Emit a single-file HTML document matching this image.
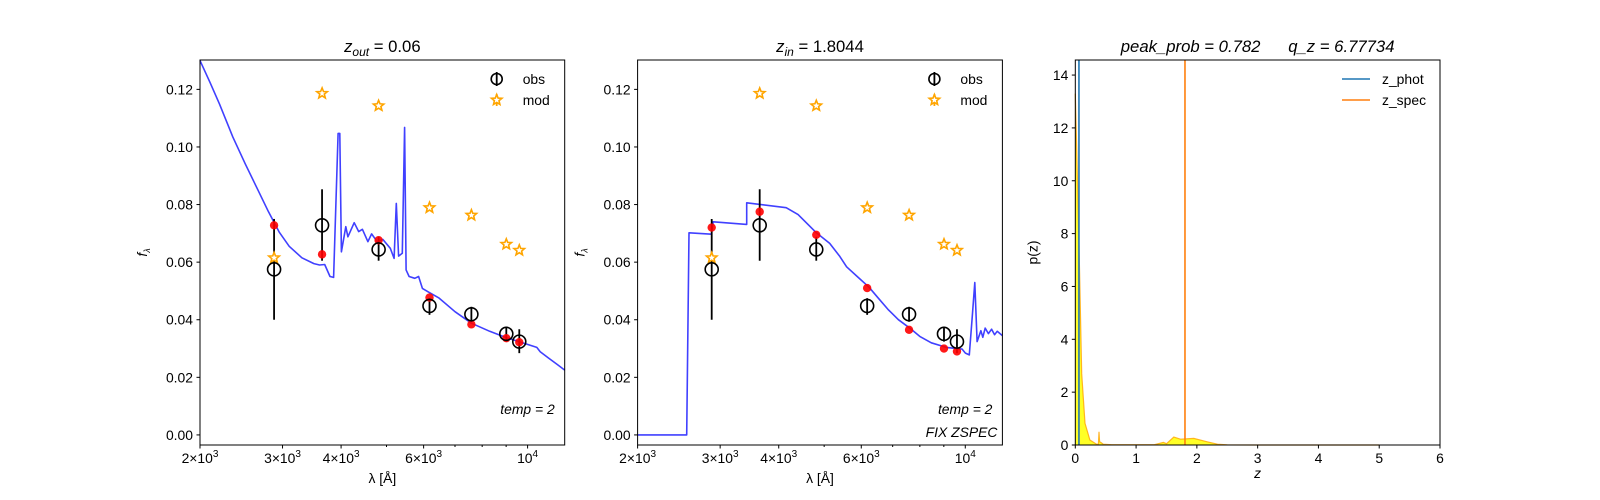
<!DOCTYPE html>
<html><head><meta charset="utf-8"><style>
body{margin:0;background:#fff;}
svg{display:block;font-family:"Liberation Sans","DejaVu Sans",sans-serif;}
</style></head><body>
<svg id="fig" width="1600" height="500" viewBox="0 0 1600 500"></svg>
<script>
// ---- data ----
const obsLam = [2878, 3643, 4810, 6176, 7587, 9007, 9600];
const obsFlux = [0.0575, 0.0728, 0.0644, 0.0448, 0.0419, 0.0351, 0.0324];
const obsErrLo = [0.0400, 0.0605, 0.0605, 0.0417, 0.0393, 0.0324, 0.0284];
const obsErrHi = [0.0750, 0.0853, 0.0688, 0.0475, 0.0445, 0.0376, 0.0367];
const modFlux = [0.0615, 0.1186, 0.1143, 0.0789, 0.0763, 0.0662, 0.0641];
const fitOut = [0.0728, 0.0627, 0.0676, 0.0477, 0.0384, 0.0336, 0.0322];
const fitIn = [0.0720, 0.0775, 0.0695, 0.0510, 0.0365, 0.0300, 0.0290];
const sedOutLam = [2000,2100,2200,2350,2500,2650,2800,2950,3100,3300,3500,3600,3690,3788,3856,3941,3975,4006,4093,4137,4267,4362,4442,4564,4647,4777,4910,5094,5190,5247,5306,5404,5464,5506,5586,5745,5854,5964,6134,6474,7000,7587,8300,9007,10465,10640,11100,11600,12000];
const sedOutFlux = [0.130,0.1225,0.115,0.1035,0.094,0.0855,0.0775,0.0705,0.0655,0.0615,0.0595,0.059,0.0592,0.055,0.0547,0.1047,0.1047,0.0636,0.0723,0.0688,0.0737,0.0706,0.0714,0.0671,0.0698,0.0671,0.0679,0.0648,0.0613,0.0804,0.0621,0.0631,0.1068,0.0573,0.0550,0.0544,0.0550,0.0509,0.0497,0.0475,0.0428,0.0388,0.0360,0.0338,0.0304,0.0289,0.0266,0.0243,0.0225];
const sedInLam = [2000,2545,2574,2875,2899,3417,3418,4150,4400,4814,5137,5400,5583,5900,6231,6500,6842,7200,7669,8000,8462,9109,9843,10005,10200,10360,10480,10600,10800,10900,11030,11200,11380,11550,11700,12000];
const sedInFlux = [0,0,0.0702,0.0697,0.0740,0.0731,0.0806,0.0789,0.0765,0.0702,0.0665,0.062,0.0584,0.0548,0.0513,0.0478,0.0436,0.0400,0.0367,0.0342,0.0320,0.0304,0.0298,0.0284,0.0278,0.0422,0.0529,0.0324,0.0362,0.0339,0.0371,0.0352,0.0367,0.0348,0.0360,0.0345];
const pzZ = [0,0.033,0.07,0.105,0.16,0.24,0.35,0.38,0.39,0.40,0.42,0.46,0.6,1.0,1.3,1.45,1.5,1.62,1.73,1.95,2.17,2.34,2.5,3.0,5.0];
const pzP = [13.3,10.3,6.5,2.7,0.82,0.19,0.03,0.03,0.5,0.12,0.1,0.03,0.01,0.01,0.01,0.1,0.05,0.3,0.22,0.25,0.12,0.03,0.005,0,0];
const zPhot = 0.06;
const zSpec = 1.8044;
const yTicks = [0,0.02,0.04,0.06,0.08,0.10,0.12];
const xMajor = [2000,3000,4000,6000,10000];
const xMajorLbl = [["2","3"],["3","3"],["4","3"],["6","3"],[null,"4"]];
const xMinor = [5000,7000,8000,9000];
const pzXTicks = [0,1,2,3,4,5,6];
const pzYTicks = [0,2,4,6,8,10,12,14];

const NS="http://www.w3.org/2000/svg";
const fig=document.getElementById('fig');
function el(tag,attrs,parent,text){const e=document.createElementNS(NS,tag);for(const k in attrs)e.setAttribute(k,attrs[k]);if(text!=null)e.textContent=text;(parent||fig).appendChild(e);return e;}

const T=60,B=445;
function sedPanel(x0,x1,sedL,sedF,fit,title,sub,name,fix){
  const g=el('g',{});
  
  
  const lx0=Math.log10(2000),lx1=Math.log10(12000);
  const X=l=>x0+(Math.log10(l)-lx0)/(lx1-lx0)*(x1-x0);
  const y0=-0.0035,y1=0.1302;
  const Y=v=>B-(v-y0)/(y1-y0)*(B-T);
  let d='';sedL.forEach((l,i)=>{d+=(i?'L':'M')+X(l).toFixed(1)+' '+Y(sedF[i]).toFixed(1);});
  const c=el('path',{d:d,fill:'none',stroke:'#0000ff','stroke-opacity':0.75,'stroke-width':1.6,'stroke-linejoin':'round'},g);
  
  
  obsLam.forEach((l,i)=>{
    const e=el('line',{x1:X(l),x2:X(l),y1:Y(obsErrLo[i]),y2:Y(obsErrHi[i]),stroke:'#000','stroke-width':1.8},g);
    
    
  });
  obsLam.forEach((l,i)=>{
    const cx=X(l),cy=Y(modFlux[i]);let p='';
    for(let k=0;k<10;k++){const r=k%2?2.4:5.5,a=-Math.PI/2+k*Math.PI/5;p+=(cx+r*Math.cos(a)).toFixed(1)+','+(cy+r*Math.sin(a)).toFixed(1)+' ';}
    const s=el('polygon',{points:p,fill:'#fff',stroke:'#ffa500','stroke-width':1.6},g);
    
    
  });
  obsLam.forEach((l,i)=>{
    const r=el('circle',{cx:X(l),cy:Y(fit[i]),r:4.2,fill:'#ff0000','fill-opacity':0.9},g);
    
    
  });
  obsLam.forEach((l,i)=>{
    const o=el('circle',{cx:X(l),cy:Y(obsFlux[i]),r:6.5,fill:'none',stroke:'#000','stroke-width':1.6},g);
    
    
  });
  el('rect',{x:x0,y:T,width:x1-x0,height:B-T,fill:'none',stroke:'#000','stroke-width':1},g);
  yTicks.forEach(v=>{
    el('line',{x1:x0-3.5,x2:x0,y1:Y(v),y2:Y(v),stroke:'#000'},g);
    const t=el('text',{x:x0-7,y:Y(v)+5,'text-anchor':'end','font-size':13.9},g,v.toFixed(2));
    
    
  });
  xMajor.forEach((v,i)=>{
    el('line',{x1:X(v),x2:X(v),y1:B,y2:B+3.5,stroke:'#000'},g);
    const t=el('text',{x:X(v),y:B+18,'text-anchor':'middle','font-size':13.9},g);
    
    
    const m=xMajorLbl[i];
    if(m[0]){t.appendChild(document.createTextNode(m[0]+'\u00d710'));}else t.appendChild(document.createTextNode('10'));
    const s=document.createElementNS(NS,'tspan');s.setAttribute('dy','-6');s.setAttribute('font-size','10');s.textContent=m[1];t.appendChild(s);
  });
  xMinor.forEach(v=>el('line',{x1:X(v),x2:X(v),y1:B,y2:B+2,stroke:'#000'},g));
  const tt=el('text',{x:(x0+x1)/2,y:52,'text-anchor':'middle','font-size':16.7},g);
  
  
  const a=document.createElementNS(NS,'tspan');a.setAttribute('font-style','italic');a.textContent='z';tt.appendChild(a);
  const b=document.createElementNS(NS,'tspan');b.setAttribute('font-style','italic');b.setAttribute('font-size','12');b.setAttribute('dy','4');b.textContent=sub;tt.appendChild(b);
  const c2=document.createElementNS(NS,'tspan');c2.setAttribute('dy','-4');c2.textContent=' = '+title;tt.appendChild(c2);
  const xl=el('text',{x:(x0+x1)/2,y:483,'text-anchor':'middle','font-size':13.9},g,'\u03bb [\u00c5]');
  
  
  const yl=el('text',{x:0,y:0,'text-anchor':'middle','font-size':13.9,'font-style':'italic',transform:`translate(${x0-53},${(T+B)/2}) rotate(-90)`},g,'f');
  
  
  const ys=document.createElementNS(NS,'tspan');ys.setAttribute('font-size','9');ys.setAttribute('dy','3');ys.textContent='\u03bb';yl.appendChild(ys);
  const lg=el('g',{},g);
  
  
  const mx=x1-68;
  el('circle',{cx:mx,cy:79,r:5.5,fill:'none',stroke:'#000','stroke-width':1.6},lg);
  el('line',{x1:mx,x2:mx,y1:72,y2:86,stroke:'#000','stroke-width':1.8},lg);
  el('text',{x:mx+26,y:84,'font-size':13.9},lg,'obs');
  let p='';for(let k=0;k<10;k++){const r=k%2?2.4:5.5,a2=-Math.PI/2+k*Math.PI/5;p+=(mx+r*Math.cos(a2)).toFixed(1)+','+(100+r*Math.sin(a2)).toFixed(1)+' ';}
  el('line',{x1:mx,x2:mx,y1:94,y2:106,stroke:'#ffa500','stroke-width':1.8},lg);
  el('polygon',{points:p,fill:'#fff',stroke:'#ffa500','stroke-width':1.6},lg);
  el('text',{x:mx+26,y:105,'font-size':13.9},lg,'mod');
  const at=el('text',{x:x1-10,y:414,'text-anchor':'end','font-size':13.9,'font-style':'italic'},g,'temp = 2');
  
  
  if(fix){const f=el('text',{x:x1-5,y:437,'text-anchor':'end','font-size':13.9,'font-style':'italic'},g,'FIX ZSPEC');
    
    }
}
sedPanel(200,564.7,sedOutLam,sedOutFlux,fitOut,'0.06','out','sed-panel-out',false);
sedPanel(637.6,1002.4,sedInLam,sedInFlux,fitIn,'1.8044','in','sed-panel-in',true);

(function(){
  const x0=1075.3,x1=1440;
  const g=el('g',{});
  
  
  const X=z=>x0+z/6*(x1-x0);
  const Y=p=>B-p/14.57*(B-T);
  let d='M'+X(pzZ[0])+' '+Y(0);
  pzZ.forEach((z,i)=>{d+='L'+X(z).toFixed(1)+' '+Y(pzP[i]).toFixed(1);});
  d+='L'+X(pzZ[pzZ.length-1])+' '+Y(0)+'Z';
  const f=el('path',{d:d,fill:'#ffff00','fill-opacity':0.85,stroke:'none'},g);
  
  
  let d2='';pzZ.forEach((z,i)=>{d2+=(i?'L':'M')+X(z).toFixed(1)+' '+Y(pzP[i]).toFixed(1);});
  const l=el('path',{d:d2,fill:'none',stroke:'#ffa500','stroke-opacity':0.8,'stroke-width':1.2},g);
  
  
  const zp=el('line',{x1:X(zPhot),x2:X(zPhot),y1:T,y2:B,stroke:'#1f77b4','stroke-width':1.6},g);
  
  
  const zs=el('line',{x1:X(zSpec),x2:X(zSpec),y1:T,y2:B,stroke:'#ff7f0e','stroke-width':1.6},g);
  
  
  el('rect',{x:x0,y:T,width:x1-x0,height:B-T,fill:'none',stroke:'#000'},g);
  pzYTicks.forEach(v=>{el('line',{x1:x0-3.5,x2:x0,y1:Y(v),y2:Y(v),stroke:'#000'},g);
    const t=el('text',{x:x0-7,y:Y(v)+5,'text-anchor':'end','font-size':13.9},g,String(v));
    
    });
  pzXTicks.forEach(v=>{el('line',{x1:X(v),x2:X(v),y1:B,y2:B+3.5,stroke:'#000'},g);
    const t=el('text',{x:X(v),y:B+18,'text-anchor':'middle','font-size':13.9},g,String(v));
    
    });
  const tt=el('text',{x:(x0+x1)/2,y:52,'text-anchor':'middle','font-size':16.7,'font-style':'italic'},g,'peak_prob = 0.782      q_z = 6.77734');
  tt.style.whiteSpace='pre';
  
  
  const xl=el('text',{x:(x0+x1)/2,y:478,'text-anchor':'middle','font-size':13.9,'font-style':'italic'},g,'z');
  
  
  const yl=el('text',{x:0,y:0,'text-anchor':'middle','font-size':13.9,transform:`translate(${x0-38},${(T+B)/2}) rotate(-90)`},g,'p(z)');
  
  
  const lg=el('g',{},g);
  
  
  el('line',{x1:1342,x2:1370,y1:79,y2:79,stroke:'#1f77b4','stroke-width':1.6},lg);
  el('text',{x:1382,y:84,'font-size':13.9},lg,'z_phot');
  el('line',{x1:1342,x2:1370,y1:100,y2:100,stroke:'#ff7f0e','stroke-width':1.6},lg);
  el('text',{x:1382,y:105,'font-size':13.9},lg,'z_spec');
})();
</script>
</body></html>
